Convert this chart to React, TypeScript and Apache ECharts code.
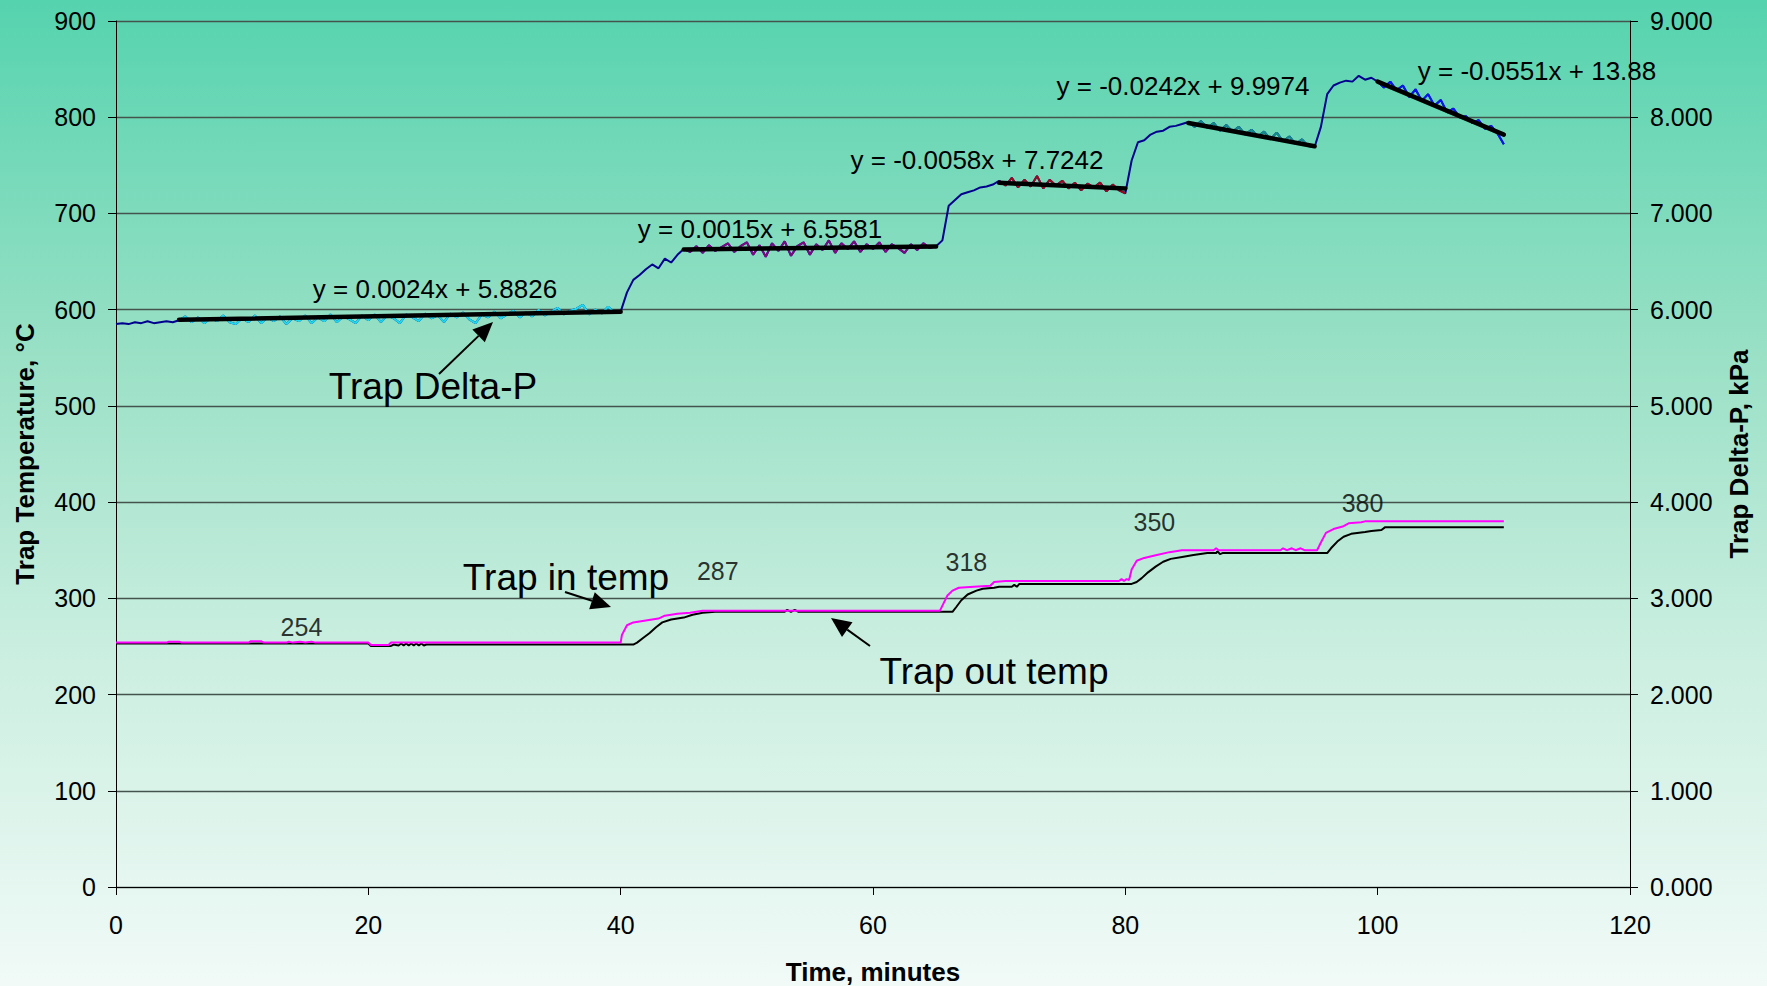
import React, { useEffect, useRef } from "react";
import * as echarts from "echarts";

const FONT = "'Liberation Sans', Arial, Helvetica, sans-serif";

// ---- data ---------------------------------------------------------------

// Trap pressure drop (kPa), one sample every DP_STEP minutes from t = 0
const DP_STEP = 0.5;
const trapDeltaP: number[] = [
  5.85, 5.86, 5.85, 5.87, 5.86, 5.88, 5.86, 5.87, 5.88, 5.87,
  5.89, 5.93, 5.87, 5.92, 5.86, 5.91, 5.88, 5.94, 5.87, 5.85,
  5.91, 5.87, 5.94, 5.86, 5.92, 5.88, 5.93, 5.85, 5.91, 5.88,
  5.94, 5.86, 5.92, 5.88, 5.95, 5.87, 5.93, 5.90, 5.86, 5.94,
  5.89, 5.95, 5.87, 5.94, 5.91, 5.86, 5.95, 5.92, 5.88, 5.96,
  5.91, 5.94, 5.87, 5.96, 5.92, 5.97, 5.90, 5.86, 5.95, 5.92,
  5.98, 5.91, 5.95, 5.99, 5.92, 5.97, 5.93, 6.00, 5.94, 5.98,
  6.02, 5.95, 5.99, 6.01, 6.05, 5.95, 6.00, 5.96, 6.03, 5.97,
  5.98, 6.18, 6.31, 6.36, 6.42, 6.47, 6.43, 6.53, 6.49, 6.57,
  6.63, 6.60, 6.66, 6.59, 6.67, 6.61, 6.65, 6.69, 6.60, 6.66,
  6.70, 6.57, 6.67, 6.55, 6.69, 6.61, 6.71, 6.56, 6.66, 6.70,
  6.57, 6.68, 6.62, 6.72, 6.59, 6.69, 6.63, 6.71, 6.60, 6.68,
  6.63, 6.70, 6.60, 6.68, 6.64, 6.59, 6.68, 6.62, 6.69, 6.64,
  6.66, 6.72, 7.08, 7.14, 7.20, 7.22, 7.24, 7.27, 7.28, 7.30,
  7.34, 7.29, 7.37, 7.27, 7.35, 7.28, 7.39, 7.26, 7.35, 7.29,
  7.34, 7.26, 7.32, 7.24, 7.31, 7.27, 7.32, 7.23, 7.30, 7.24,
  7.21, 7.55, 7.74, 7.76, 7.82, 7.85, 7.86, 7.90, 7.91, 7.93,
  7.95, 7.90, 7.96, 7.89, 7.94, 7.86, 7.92, 7.85, 7.90, 7.82,
  7.87, 7.80, 7.85, 7.77, 7.84, 7.75, 7.80, 7.72, 7.77, 7.70,
  7.69, 7.90, 8.24, 8.33, 8.36, 8.38, 8.37, 8.43, 8.39, 8.41,
  8.37, 8.31, 8.37, 8.28, 8.33, 8.21, 8.29, 8.17, 8.24, 8.12,
  8.18, 8.05, 8.09, 8.00, 8.01, 7.94, 7.97, 7.88, 7.91, 7.83,
  7.72,
];

// Trap inlet temperature (°C): [minutes, value]
const trapInTemp: [number, number][] = [
  [0, 254], [4, 254], [4.2, 255], [5, 255], [5.2, 254], [10.5, 254], [10.7, 255.5],
  [11.5, 255.5], [11.7, 254], [13.5, 254], [13.7, 255], [14, 254], [14.6, 255],
  [15, 254], [15.5, 255], [15.8, 254], [20, 254], [20.2, 251.5], [21.6, 251.5],
  [21.8, 254], [40, 254], [40.1, 262], [40.5, 272], [41, 275], [42, 277], [43, 279],
  [43.5, 282], [44.5, 284], [45.5, 285], [46.5, 287], [65.3, 287], [65.6, 295],
  [65.9, 303], [66.3, 308], [66.8, 311], [68, 312], [69.3, 313], [69.6, 317],
  [70.5, 318], [79.5, 318], [79.7, 320], [79.9, 318], [80.1, 320], [80.3, 319],
  [80.5, 330], [80.9, 339], [81.5, 342], [82.5, 345], [83.5, 348], [84.5, 350],
  [87, 350], [87.2, 352], [87.4, 350], [92.3, 350], [92.5, 352], [92.8, 350],
  [93.2, 352], [93.5, 350], [93.9, 352], [94.2, 350], [95.2, 350], [95.5, 358],
  [95.9, 368], [96.5, 372], [97.3, 375], [97.7, 378], [98.7, 379], [99, 380],
  [110, 380],
];

// Trap outlet temperature (°C): [minutes, value]
const trapOutTemp: [number, number][] = [
  [0, 253], [20, 253], [20.2, 250.5], [21.8, 250.5], [22, 252], [22.4, 251],
  [22.6, 253], [22.8, 251], [23, 253], [23.2, 251], [23.4, 253], [23.6, 251],
  [23.8, 253], [24, 251], [24.2, 253], [24.4, 251], [24.6, 252], [41, 252],
  [41.3, 254], [41.8, 259], [42.3, 264], [42.8, 270], [43.3, 275], [44, 278],
  [45, 280], [45.7, 283], [46.5, 285], [47.5, 286], [53, 286], [53.2, 288],
  [53.5, 286], [53.8, 288], [54.1, 286], [66.3, 286], [66.6, 291], [67, 298],
  [67.5, 304], [68.2, 308], [68.7, 310], [69.6, 311], [70, 312], [71, 312],
  [71.2, 314], [71.4, 312], [71.6, 315], [80.5, 315], [80.9, 317], [81.3, 321],
  [81.8, 327], [82.4, 333], [83, 338], [83.6, 341], [84.5, 343], [85.4, 345],
  [86.5, 347], [87.2, 347], [87.3, 349], [87.5, 346], [87.7, 347], [96, 347],
  [96.3, 352], [96.8, 359], [97.3, 364], [97.9, 367], [99, 369], [99.5, 370],
  [100.3, 371], [100.6, 374], [110, 374],
];

// Linear fits of Delta-P over the settled part of each stage
const fitStart = [5, 45, 70, 85, 100];
const fitEnd = [40, 65, 80, 95, 110];
const fitSlope = [0.0024, 0.0015, -0.0058, -0.0242, -0.0551];
const fitIntercept = [5.8826, 6.5581, 7.7242, 9.9974, 13.88];

// Stage setpoints labelled on the inlet trace
const stageTemp = [254, 287, 318, 350, 380];

// ---- layout / style -----------------------------------------------------

const fitColors = ["#1fd9ec", "#7d0a80", "#9a0a1e", "#148a8c", "#0a14f0"];
const fitLabelPos: [number, number][] = [
  [435, 289], [760, 229], [977, 160], [1183, 86], [1537, 71],
];
const stageLabelTime = [14.7, 47.7, 67.4, 82.3, 98.8];
const stageLabelLift = [16, 40, 19, 28, 18];

const notes = [
  { text: "Trap Delta-P", x: 433, y: 386 },
  { text: "Trap in temp", x: 566, y: 577 },
  { text: "Trap out temp", x: 994, y: 671 },
];
const arrows: { from: [number, number]; to: [number, number] }[] = [
  { from: [439, 374], to: [493, 322] },
  { from: [565, 592], to: [611, 607] },
  { from: [870, 646], to: [831, 618] },
];

function arrowElements(from: [number, number], to: [number, number], headLen: number, headHalf: number) {
  const dx = to[0] - from[0];
  const dy = to[1] - from[1];
  const len = Math.hypot(dx, dy);
  const ux = dx / len;
  const uy = dy / len;
  const bx = to[0] - ux * headLen;
  const by = to[1] - uy * headLen;
  const px = -uy;
  const py = ux;
  return [
    {
      type: "line",
      z: 100,
      shape: { x1: from[0], y1: from[1], x2: bx, y2: by },
      style: { stroke: "#000", lineWidth: 2 },
    },
    {
      type: "polygon",
      z: 100,
      shape: {
        points: [
          [to[0], to[1]],
          [bx + px * headHalf, by + py * headHalf],
          [bx - px * headHalf, by - py * headHalf],
        ],
      },
      style: { fill: "#000" },
    },
  ];
}

function textElement(text: string, x: number, y: number, size: number) {
  return {
    type: "text",
    z: 100,
    x,
    y,
    style: {
      text,
      fontSize: size,
      fontFamily: FONT,
      fill: "#000",
      align: "center",
      verticalAlign: "middle",
      textAlign: "center",
      textVerticalAlign: "middle",
    },
  };
}

export default function App() {
  const ref = useRef<HTMLDivElement>(null);

  useEffect(() => {
    document.body.style.margin = "0";
    if (!ref.current) return;
    const chart = echarts.init(ref.current, undefined, { renderer: "svg" });

    const dpData = trapDeltaP.map((v, i) => [i * DP_STEP, v]);
    const overlaySeries = fitStart.map((s, k) => ({
      type: "line",
      yAxisIndex: 1,
      symbol: "none",
      silent: true,
      z: 3,
      lineStyle: { color: fitColors[k], width: 2 },
      data: dpData.filter((p) => p[0] >= s && p[0] <= fitEnd[k]),
    }));
    const fitSeries = fitStart.map((s, k) => ({
      type: "line",
      yAxisIndex: 1,
      symbol: "none",
      silent: true,
      z: 4,
      lineStyle: { color: "#000", width: 4.5, cap: "round" },
      data: [
        [s, fitSlope[k] * s + fitIntercept[k]],
        [fitEnd[k], fitSlope[k] * fitEnd[k] + fitIntercept[k]],
      ],
    }));

    const axisText = { fontSize: 25, color: "#000", fontFamily: FONT };
    const nameText = { fontSize: 26, fontWeight: "bold", color: "#000", fontFamily: FONT };

    const graphics: any[] = [];
    fitStart.forEach((_, k) => {
      graphics.push(
        textElement(`y = ${fitSlope[k]}x + ${fitIntercept[k]}`, fitLabelPos[k][0], fitLabelPos[k][1], 26)
      );
    });
    notes.forEach((n) => graphics.push(textElement(n.text, n.x, n.y, 37)));
    arrows.forEach((a) => graphics.push(...arrowElements(a.from, a.to, 20, 9)));

    chart.setOption({
      animation: false,
      backgroundColor: {
        type: "linear",
        x: 0,
        y: 0,
        x2: 0,
        y2: 1,
        colorStops: [
          { offset: 0, color: "#55d3ae" },
          { offset: 0.35, color: "#98e0c5" },
          { offset: 0.65, color: "#c9eedf" },
          { offset: 1, color: "#f1faf7" },
        ],
      },
      grid: { left: 116, right: 137, top: 21, bottom: 99, outerBoundsMode: "none", containLabel: false },
      xAxis: {
        type: "value",
        min: 0,
        max: 120,
        interval: 20,
        name: "Time, minutes",
        nameLocation: "middle",
        nameGap: 72,
        nameTextStyle: nameText,
        axisLine: { onZero: false, lineStyle: { color: "#000", width: 1 } },
        axisTick: { show: true, length: 8, lineStyle: { color: "#000" } },
        axisLabel: { ...axisText, margin: 25 },
        splitLine: { show: false },
      },
      yAxis: [
        {
          type: "value",
          min: 0,
          max: 900,
          interval: 100,
          name: "Trap Temperature, °C",
          nameLocation: "middle",
          nameRotate: 90,
          nameGap: 78,
          nameTextStyle: nameText,
          axisLine: { show: true, lineStyle: { color: "#000", width: 1 } },
          axisTick: { show: true, length: 8, lineStyle: { color: "#000" } },
          axisLabel: { ...axisText, margin: 20 },
          splitLine: { show: true, lineStyle: { color: "#45534e", width: 1.3 } },
        },
        {
          type: "value",
          min: 0,
          max: 9,
          interval: 1,
          position: "right",
          name: "Trap Delta-P, kPa",
          nameLocation: "middle",
          nameRotate: 90,
          nameGap: 96,
          nameTextStyle: nameText,
          axisLine: { show: true, lineStyle: { color: "#000", width: 1 } },
          axisTick: { show: true, length: 8, lineStyle: { color: "#000" } },
          axisLabel: { ...axisText, margin: 20, formatter: (v: number) => v.toFixed(3) },
          splitLine: { show: false },
        },
      ],
      series: [
        {
          name: "Trap Delta-P",
          type: "line",
          yAxisIndex: 1,
          symbol: "none",
          silent: true,
          z: 2,
          lineStyle: { color: "#00008f", width: 2 },
          data: dpData,
        },
        ...overlaySeries,
        ...fitSeries,
        {
          name: "Trap out temp",
          type: "line",
          yAxisIndex: 0,
          symbol: "none",
          silent: true,
          z: 2,
          lineStyle: { color: "#000", width: 2 },
          data: trapOutTemp,
        },
        {
          name: "Trap in temp",
          type: "line",
          yAxisIndex: 0,
          symbol: "none",
          silent: true,
          z: 2,
          lineStyle: { color: "#ff00ff", width: 2 },
          data: trapInTemp,
        },
        {
          name: "Stage setpoints",
          type: "scatter",
          yAxisIndex: 0,
          symbolSize: 1,
          silent: true,
          z: 5,
          itemStyle: { color: "rgba(0,0,0,0)" },
          label: {
            show: true,
            position: "inside",
            ...axisText,
            formatter: (p: any) => String(p.value[1]),
          },
          data: stageTemp.map((v, i) => ({
            value: [stageLabelTime[i], v],
            label: { offset: [0, -stageLabelLift[i]] },
          })),
        },
      ],
      graphic: graphics,
    });

    return () => chart.dispose();
  }, []);

  return <div ref={ref} style={{ width: 1767, height: 986 }} />;
}
